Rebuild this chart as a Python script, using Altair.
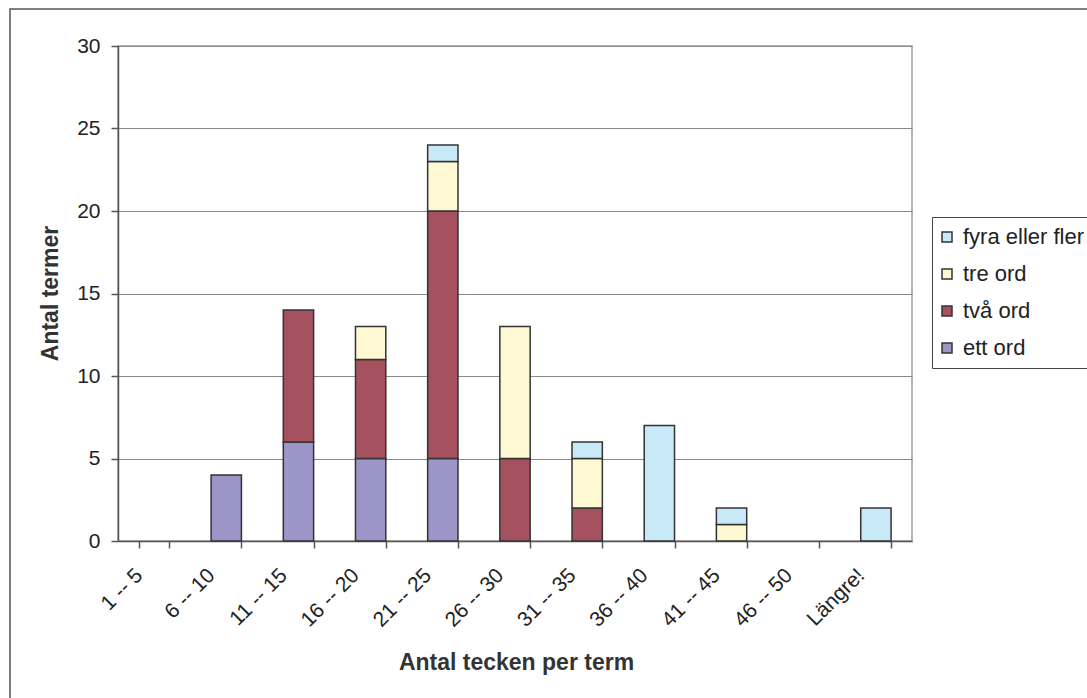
import altair as alt
import pandas as pd

# Term length buckets (characters per term)
categories = ["1 -- 5", "6 -- 10", "11 -- 15", "16 -- 20", "21 -- 25", "26 -- 30",
              "31 -- 35", "36 -- 40", "41 -- 45", "46 -- 50", "Längre!"]

# Number of terms per bucket, split by word count
ett_ord = [0, 4, 6, 5, 5, 0, 0, 0, 0, 0, 0]
tva_ord = [0, 0, 8, 6, 15, 5, 2, 0, 0, 0, 0]
tre_ord = [0, 0, 0, 2, 3, 8, 3, 0, 1, 0, 0]
fyra_ord = [0, 0, 0, 0, 1, 0, 1, 7, 1, 0, 2]

series_names = ["ett ord", "två ord", "tre ord", "fyra eller fler"]
series_values = [ett_ord, tva_ord, tre_ord, fyra_ord]
series_colors = ["#9C95C8", "#A5515F", "#FFF9D3", "#C8EAF8"]

rows = []
for rank, (name, vals) in enumerate(zip(series_names, series_values)):
    for cat, v in zip(categories, vals):
        if v > 0:
            rows.append({"bucket": cat, "typ": name, "antal": v, "rank": rank})
df = pd.DataFrame(rows)

FONT = "Liberation Sans"
TEXT = "#222222"

bars = alt.Chart(df).mark_bar(stroke="#333333", strokeWidth=1.5).encode(
    x=alt.X(
        "bucket:N",
        sort=categories,
        scale=alt.Scale(domain=categories, paddingInner=0.58, paddingOuter=0.29),
        axis=alt.Axis(
            title="Antal tecken per term",
            labelAngle=-45,
            labelAlign="right",
            labelBaseline="middle",
            labelFontSize=21,
            labelPadding=24,
            labelOffset=-15,
            labelColor=TEXT,
            labelFont=FONT,
            tickBand="extent",
            tickSize=7,
            tickColor="#555555",
            tickWidth=1.5,
            domainColor="#555555",
            domainWidth=1.5,
            grid=False,
            titleFont=FONT,
            titleFontSize=23,
            titleFontWeight="bold",
            titleColor="#333333",
            titleX=398,
            titleY=121,
            titleAlign="center",
            titleBaseline="middle",
        ),
    ),
    y=alt.Y(
        "antal:Q",
        stack="zero",
        scale=alt.Scale(domain=[0, 30], nice=False),
        axis=alt.Axis(
            title="Antal termer",
            values=[0, 5, 10, 15, 20, 25, 30],
            labelFontSize=21,
            labelPadding=11,
            labelColor=TEXT,
            labelFont=FONT,
            tickSize=7,
            tickColor="#555555",
            tickWidth=1.5,
            domainColor="#555555",
            domainWidth=1.5,
            grid=True,
            gridColor="#8a8a8a",
            gridWidth=1.2,
            titleFont=FONT,
            titleFontSize=23,
            titleFontWeight="bold",
            titleColor="#333333",
            titleX=-68,
            titleY=247,
            titleAngle=-90,
            titleAlign="center",
            titleBaseline="middle",
        ),
    ),
    color=alt.Color(
        "typ:N",
        scale=alt.Scale(domain=series_names[::-1], range=series_colors[::-1]),
        legend=alt.Legend(
            title=None,
            orient="none",
            legendX=814,
            legendY=171,
            symbolType="square",
            symbolSize=100,
            symbolOffset=-5,
            symbolStrokeColor="#333333",
            symbolStrokeWidth=1.5,
            labelFont=FONT,
            labelFontSize=22,
            labelColor=TEXT,
            labelOffset=5,
            rowPadding=15,
            padding=9,
            strokeColor="#444444",
            fillColor="white",
        ),
    ),
    order=alt.Order("rank:Q", sort="ascending"),
)

# Outer chart frame
frame = alt.Chart(alt.Data(values=[{"f": 1}])).mark_rect(
    filled=False, stroke="#555555", strokeWidth=1.5
).encode(
    x=alt.value(-108), x2=alt.value(990), y=alt.value(-37), y2=alt.value(800)
)

chart = alt.layer(frame, bars).properties(
    width=794,
    height=495,
    autosize=alt.AutoSizeParams(type="none"),
    padding={"left": 118, "top": 46, "right": 175, "bottom": 157},
    background="white",
).configure_view(
    stroke="#a39a9a", strokeWidth=1.5
)

chart.save("out.html", embed_options={"renderer": "svg", "actions": False})
